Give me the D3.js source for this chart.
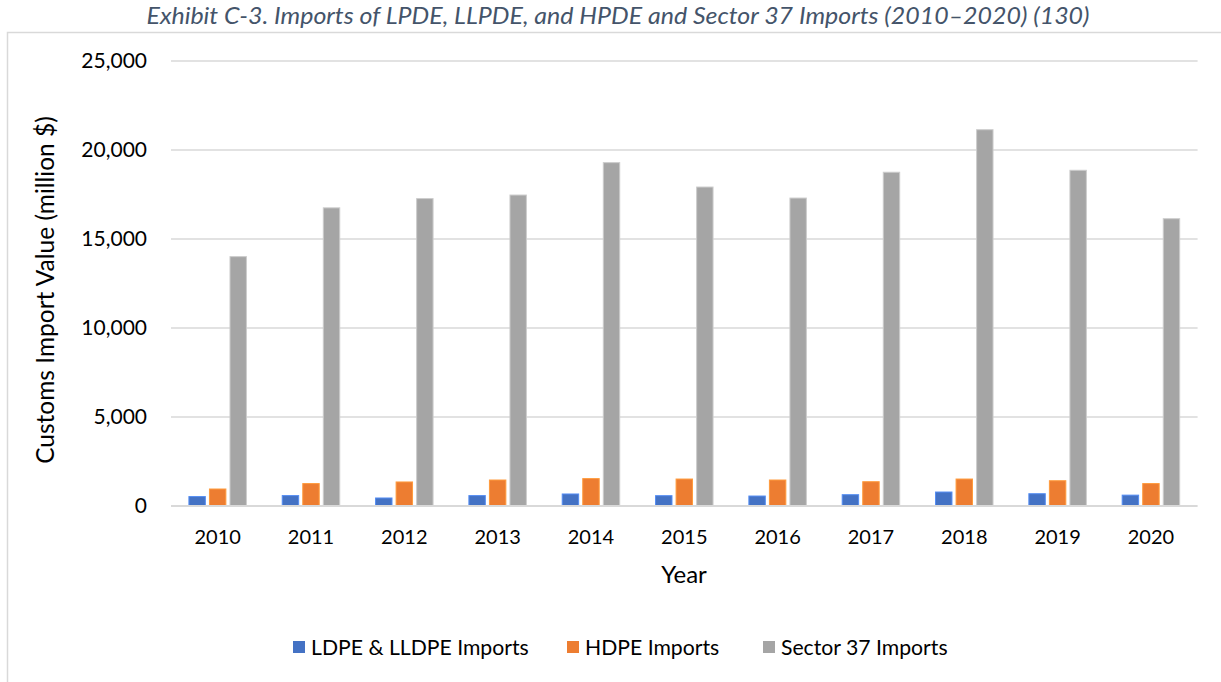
<!DOCTYPE html>
<html>
<head>
<meta charset="utf-8">
<script src="https://cdn.jsdelivr.net/npm/d3@7"></script>
<style>
  html, body { margin: 0; padding: 0; background: #fff; }
  svg { display: block; font-family: Lato, "Open Sans", sans-serif; }
</style>
</head>
<body>
<svg id="chart" width="1221" height="682"></svg>
<script>
// Import values, million $
const years = ["2010","2011","2012","2013","2014","2015","2016","2017","2018","2019","2020"];
const ldpeImports   = [530, 585, 450, 585, 675, 580, 560, 635, 785, 690, 610];
const hdpeImports   = [955, 1260, 1350, 1460, 1540, 1515, 1460, 1365, 1515, 1420, 1260];
const sector37      = [14010, 16750, 17270, 17470, 19290, 17920, 17300, 18750, 21140, 18860, 16140];
const seriesNames   = ["LDPE & LLDPE Imports", "HDPE Imports", "Sector 37 Imports"];
const seriesColors  = ["#4472C4", "#ED7D31", "#A5A5A5"];
const yTicks        = [0, 5000, 10000, 15000, 20000, 25000];

const seriesValues = [ldpeImports, hdpeImports, sector37];
const svg = d3.select("#chart");

// chart frame (extends past the right and bottom edges)
svg.append("rect")
  .attr("x", 7.5).attr("y", 32.5)
  .attr("width", 1300).attr("height", 700)
  .attr("fill", "none").attr("stroke", "#D9D9D9").attr("stroke-width", 1.5);

// title
svg.append("text")
  .attr("x", 618).attr("y", 24)
  .attr("text-anchor", "middle")
  .attr("font-style", "italic")
  .attr("font-size", 22.5)
  .attr("textLength", 943)
  .attr("lengthAdjust", "spacingAndGlyphs")
  .attr("fill", "#44546A")
  .text("Exhibit C-3. Imports of LPDE, LLPDE, and HPDE and Sector 37 Imports (2010\u20132020) (130)");

const x = d3.scaleBand().domain(years).range([171, 1197.6]).padding(0);
const groupWidth = 57.5;
const x1 = d3.scaleBand().domain(d3.range(3)).range([-groupWidth / 2, groupWidth / 2]).paddingInner(0.2);
const y = d3.scaleLinear().domain([0, 25000]).range([506, 61]);

// gridlines
svg.append("g")
  .selectAll("line")
  .data(yTicks.filter(t => t > 0))
  .join("line")
  .attr("x1", 171).attr("x2", 1197.6)
  .attr("y1", d => y(d)).attr("y2", d => y(d))
  .attr("stroke", "#D9D9D9").attr("stroke-width", 1.5);

// y axis labels
const yAxis = svg.append("g")
  .attr("transform", "translate(147,0)")
  .call(d3.axisLeft(y).tickValues(yTicks).tickFormat(d3.format(",")).tickSize(0).tickPadding(0));
yAxis.select(".domain").remove();
yAxis.selectAll("text")
  .attr("font-family", "Lato, 'Open Sans', sans-serif")
  .attr("font-size", 21).attr("fill", "#000");

// bars
const groups = svg.append("g")
  .selectAll("g")
  .data(years)
  .join("g")
  .attr("transform", d => `translate(${x(d) + x.bandwidth() / 2},0)`);

groups.selectAll("rect")
  .data((d, i) => seriesValues.map((vals, s) => ({ s, v: vals[i] })))
  .join("rect")
  .attr("x", d => x1(d.s))
  .attr("width", x1.bandwidth())
  .attr("y", d => y(d.v))
  .attr("height", d => y(0) - y(d.v))
  .attr("fill", d => seriesColors[d.s])
  .attr("stroke", d => d3.color(seriesColors[d.s]).brighter(0.6))
  .attr("stroke-width", 1);

// category axis
svg.append("line")
  .attr("x1", 171).attr("x2", 1197.6)
  .attr("y1", y(0)).attr("y2", y(0))
  .attr("stroke", "#D9D9D9").attr("stroke-width", 2);

const xAxis = svg.append("g")
  .attr("transform", `translate(0,${y(0)})`)
  .call(d3.axisBottom(x).tickSize(0).tickPadding(0));
xAxis.select(".domain").remove();
xAxis.selectAll("text")
  .attr("dy", null)
  .attr("y", 38)
  .attr("font-family", "Lato, 'Open Sans', sans-serif")
  .attr("font-size", 20).attr("fill", "#000");

// axis titles
svg.append("text")
  .attr("transform", "translate(54,290) rotate(-90)")
  .attr("text-anchor", "middle")
  .attr("font-size", 24.5).attr("fill", "#000")
  .text("Customs Import Value (million $)");

svg.append("text")
  .attr("x", 684).attr("y", 583)
  .attr("text-anchor", "middle")
  .attr("font-size", 24).attr("fill", "#000")
  .text("Year");

// legend
const legendX = [293, 567, 763];
const legend = svg.append("g")
  .selectAll("g")
  .data(seriesNames)
  .join("g")
  .attr("transform", (d, i) => `translate(${legendX[i]},647)`);
legend.append("rect")
  .attr("x", 0).attr("y", -6).attr("width", 12).attr("height", 12)
  .attr("fill", (d, i) => seriesColors[i]);
legend.append("text")
  .attr("x", 18).attr("y", 7.5)
  .attr("font-size", 21.2).attr("fill", "#000")
  .text(d => d);
</script>
</body>
</html>
